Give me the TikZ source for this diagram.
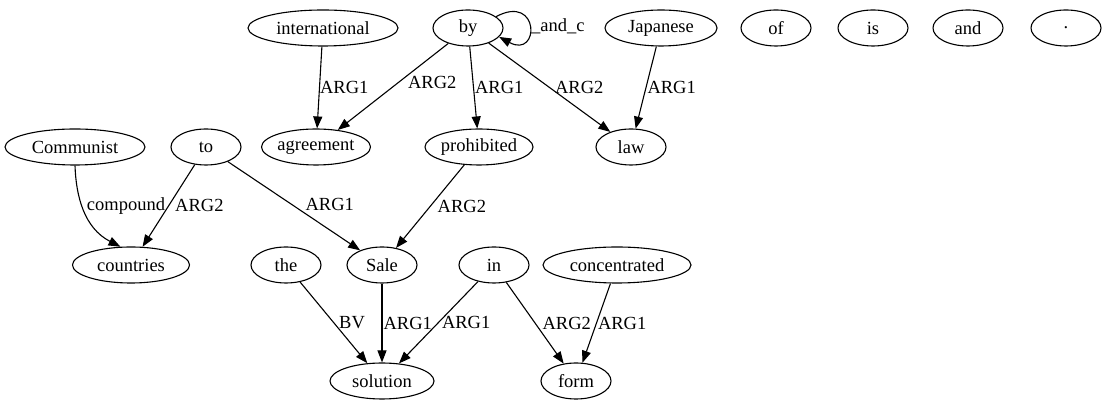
\documentclass[tikz,border=0pt]{standalone}
\usepackage{fontspec}
\setmainfont{Liberation Serif}
\usetikzlibrary{shapes.geometric,arrows.meta}
\begin{document}
\begin{tikzpicture}[x=1pt,y=1pt,
  nd/.style={draw,ellipse,inner sep=0pt,minimum height=36pt,font=\fontsize{18.5}{20}\selectfont,line width=1.1pt},
  ed/.style={-{Triangle[length=12pt,width=9pt]},line width=1.1pt},
  lb/.style={font=\fontsize{18.5}{20}\selectfont,inner sep=1pt}]
\useasboundingbox (0,0) rectangle (1107,411);
\node[nd,minimum width=150pt] (international) at (323,383) {international};
\node[nd,minimum width=70pt] (by) at (468,383) {by};
\node[nd,minimum width=112pt] (japanese) at (661,383) {Japanese};
\node[nd,minimum width=70pt] (of) at (776,383) {of};
\node[nd,minimum width=70pt] (is) at (873,383) {is};
\node[nd,minimum width=70pt] (and) at (968,383) {and};
\node[nd,minimum width=70pt] (dot) at (1066,383) {.};
\node[nd,minimum width=140pt] (communist) at (75,264) {Communist};
\node[nd,minimum width=70pt] (to) at (206,264) {to};
\node[nd,minimum width=102pt] (agreement) at (316,264) {agreement};
\node[nd,minimum width=108pt] (prohibited) at (479,264) {prohibited};
\node[nd,minimum width=70pt] (law) at (631,264) {law};
\node[nd,minimum width=117pt] (countries) at (131,146) {countries};
\node[nd,minimum width=70pt] (the) at (286,146) {the};
\node[nd,minimum width=70pt] (sale) at (382,146) {Sale};
\node[nd,minimum width=70pt] (in) at (494,146) {in};
\node[nd,minimum width=148pt] (concentrated) at (617,146) {concentrated};
\node[nd,minimum width=104pt] (solution) at (382,30) {solution};
\node[nd,minimum width=70pt] (form) at (576,30) {form};

\draw[ed] (international) -- (agreement) node[lb,pos=0.5,right,xshift=-1pt] {ARG1};
\draw[ed] (by) -- (agreement) node[lb,pos=0.45,right,xshift=8pt] {ARG2};
\draw[ed] (by) -- (prohibited) node[lb,pos=0.5,right] {ARG1};
\draw[ed] (by) -- (law) node[lb,pos=0.5,right,xshift=4pt] {ARG2};
\draw[ed] (japanese) -- (law) node[lb,pos=0.5,right,xshift=0pt] {ARG1};
\draw[ed] (by.22) .. controls (540,418) and (540,352) .. (by.-16);
\node[lb,anchor=west] (andc) at (530,385) {\_and\_c};
\draw[ed] (communist.south) .. controls (76,215) and (84,183) .. (countries.120);
\node[lb] (lcomp) at (126,205) {compound};
\draw[ed] (to) -- (countries) node[lb,pos=0.5,right,xshift=5pt] {ARG2};
\draw[ed] (to) -- (sale) node[lb,pos=0.5,above right,xshift=10pt,yshift=-6pt] {ARG1};
\draw[ed] (prohibited) -- (sale) node[lb,pos=0.5,right,xshift=6pt] {ARG2};
\draw[ed] (the) -- (solution) node[lb,pos=0.5,right,xshift=4pt] {BV};
\draw[ed] (sale) -- (solution) node[lb,pos=0.5,right] {ARG1};
\draw[ed] (in) -- (solution) node[lb,pos=0.5,right,xshift=2pt] {ARG1};
\draw[ed] (in) -- (form) node[lb,pos=0.5,right,xshift=6pt] {ARG2};
\draw[ed] (concentrated) -- (form) node[lb,pos=0.5,right] {ARG1};
\end{tikzpicture}
\end{document}
